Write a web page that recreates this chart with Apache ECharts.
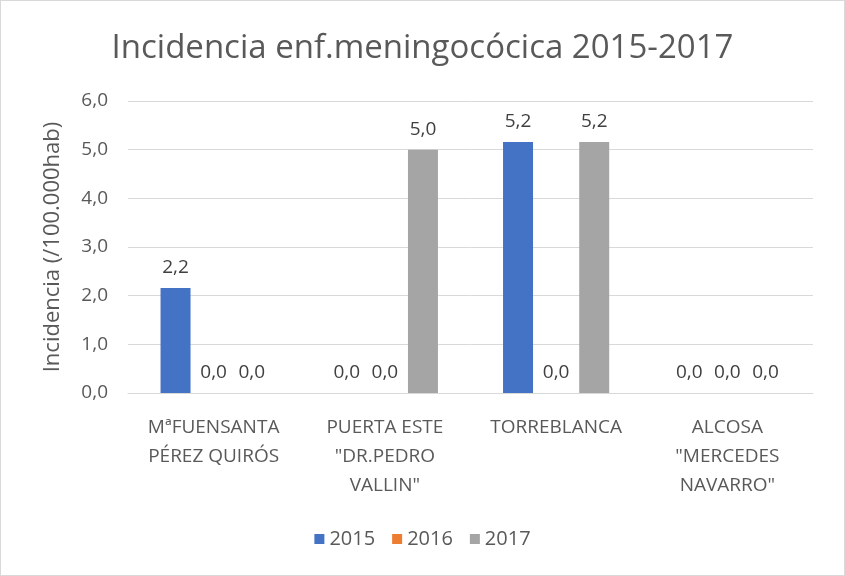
<!DOCTYPE html>
<html lang="es">
<head>
    <meta charset="UTF-8">
    <title>Incidencia enf.meningocócica 2015-2017</title>
    <style>
        * { margin: 0; padding: 0; box-sizing: border-box; }
        body { background: #fff; }
        #chart {
            width: 845px;
            height: 576px;
            border: 1px solid #d9d9d9;
        }
    </style>
</head>
<body>
    <div id="chart"></div>

    <script src="https://cdn.jsdelivr.net/npm/echarts@6/dist/echarts.min.js"></script>
    <script>
        // Data
        const categories = [
            'MªFUENSANTA\nPÉREZ QUIRÓS',
            'PUERTA ESTE\n"DR.PEDRO\nVALLIN"',
            'TORREBLANCA',
            'ALCOSA\n"MERCEDES\nNAVARRO"'
        ];
        const seriesNames = ['2015', '2016', '2017'];
        const values2015 = [2.16, 0, 5.16, 0];
        const values2016 = [0, 0, 0, 0];
        const values2017 = [0, 5.0, 5.16, 0];
        const colors = ['#4472c4', '#ed7d31', '#a5a5a5'];

        const font = "'Open Sans', sans-serif";
        const comma = v => v.toFixed(1).replace('.', ',');

        const chart = echarts.init(document.getElementById('chart'));

        const makeSeries = (name, data, color) => ({
            name: name,
            type: 'bar',
            data: data,
            barGap: '27%',
            barCategoryGap: '38%',
            itemStyle: { color: color },
            label: {
                show: true,
                position: 'top',
                distance: 11,
                fontFamily: font,
                fontSize: 19,
                color: '#404040',
                formatter: p => comma(p.value)
            }
        });

        chart.setOption({
            animation: false,
            color: colors,
            title: {
                text: 'Incidencia enf.meningocócica 2015-2017',
                left: 'center',
                top: 26,
                textStyle: {
                    fontFamily: font,
                    fontSize: 33,
                    fontWeight: 'normal',
                    color: '#595959'
                }
            },
            legend: {
                bottom: 21,
                left: 'center',
                itemWidth: 10,
                itemHeight: 10,
                itemGap: 17,
                icon: 'rect',
                textStyle: { fontFamily: font, fontSize: 20, color: '#595959' },
                data: seriesNames
            },
            grid: { left: 127, right: 31, top: 100, bottom: 182 },
            xAxis: {
                type: 'category',
                data: categories,
                axisLine: { lineStyle: { color: '#d9d9d9', width: 1 } },
                axisTick: { show: false },
                axisLabel: {
                    interval: 0,
                    margin: 20,
                    fontFamily: font,
                    fontSize: 19,
                    lineHeight: 29,
                    color: '#595959'
                }
            },
            yAxis: {
                type: 'value',
                min: 0,
                max: 6,
                interval: 1,
                name: 'Incidencia (/100.000hab)',
                nameLocation: 'middle',
                nameGap: 64,
                nameTextStyle: { fontFamily: font, fontSize: 22, color: '#595959' },
                axisLine: { show: false },
                axisTick: { show: false },
                splitLine: { lineStyle: { color: '#d9d9d9', width: 1 } },
                axisLabel: {
                    margin: 20,
                    fontFamily: font,
                    fontSize: 19,
                    color: '#595959',
                    formatter: v => comma(v)
                }
            },
            series: [
                makeSeries(seriesNames[0], values2015, colors[0]),
                makeSeries(seriesNames[1], values2016, colors[1]),
                makeSeries(seriesNames[2], values2017, colors[2])
            ]
        });
    </script>
</body>
</html>
